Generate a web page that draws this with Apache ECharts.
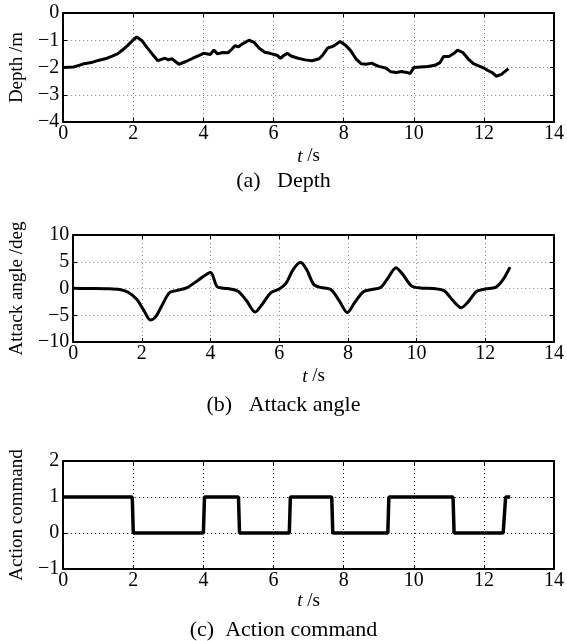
<!DOCTYPE html>
<html>
<head>
<meta charset="utf-8">
<script src="https://cdn.jsdelivr.net/npm/echarts/dist/echarts.min.js"></script>
<style>
  html, body { margin: 0; padding: 0; background: #fff; }
  #chart { width: 567px; height: 641px; }
</style>
</head>
<body>
<div id="chart"></div>
<script>
// time ticks shared by all three panels
const timeTicks = { min: 0, max: 14, interval: 2 };

// (a) depth [t (s), depth (m)]
const depthData = [
  [0, -2.0], [0.3, -1.98], [0.45, -1.92], [0.6, -1.86], [0.8, -1.82], [1.0, -1.74],
  [1.2, -1.68], [1.4, -1.58], [1.55, -1.5], [1.7, -1.35], [1.85, -1.18], [2.0, -0.98],
  [2.1, -0.88], [2.25, -1.02], [2.4, -1.28], [2.55, -1.52], [2.7, -1.75], [2.8, -1.7],
  [2.9, -1.66], [3.0, -1.72], [3.1, -1.68], [3.2, -1.78], [3.3, -1.88], [3.5, -1.78],
  [3.7, -1.66], [3.9, -1.55], [4.0, -1.48], [4.2, -1.52], [4.3, -1.36], [4.4, -1.5],
  [4.55, -1.45], [4.7, -1.46], [4.8, -1.34], [4.9, -1.2], [5.0, -1.24], [5.1, -1.14],
  [5.3, -1.0], [5.45, -1.08], [5.6, -1.3], [5.75, -1.44], [5.9, -1.48], [6.0, -1.52],
  [6.1, -1.55], [6.2, -1.66], [6.3, -1.55], [6.4, -1.48], [6.5, -1.58], [6.7, -1.66],
  [6.9, -1.72], [7.1, -1.75], [7.3, -1.68], [7.4, -1.55], [7.55, -1.28], [7.7, -1.22],
  [7.9, -1.05], [8.05, -1.18], [8.2, -1.38], [8.35, -1.68], [8.5, -1.86], [8.65, -1.88],
  [8.8, -1.84], [8.9, -1.9], [9.0, -1.96], [9.2, -2.02], [9.35, -2.16], [9.5, -2.18],
  [9.65, -2.15], [9.8, -2.18], [9.9, -2.22], [10.0, -2.0], [10.2, -1.98], [10.4, -1.96],
  [10.6, -1.92], [10.75, -1.82], [10.85, -1.6], [11.0, -1.6], [11.15, -1.48], [11.25, -1.36],
  [11.4, -1.45], [11.55, -1.68], [11.7, -1.86], [11.85, -1.94], [12.0, -2.02], [12.1, -2.1],
  [12.25, -2.2], [12.35, -2.32], [12.5, -2.25], [12.7, -2.04]
];
const depthTicks = { min: -4, max: 0, interval: 1 };

// (b) attack angle [t (s), angle (deg)]
const attackData = [
  [0, 0.05], [0.5, 0.0], [1.0, -0.05], [1.35, -0.2], [1.6, -0.7], [1.85, -2.0],
  [2.05, -4.0], [2.25, -5.9], [2.4, -5.3], [2.6, -3.0], [2.8, -0.8], [3.0, -0.4],
  [3.3, 0.1], [3.65, 1.6], [4.0, 3.0], [4.2, 0.3], [4.5, 0.0], [4.8, -0.5],
  [5.05, -2.3], [5.3, -4.4], [5.5, -3.0], [5.75, -0.8], [6.0, -0.1], [6.2, 1.0],
  [6.4, 3.5], [6.62, 4.9], [6.8, 3.5], [7.0, 0.8], [7.2, 0.2], [7.5, -0.2],
  [7.75, -2.3], [7.98, -4.5], [8.2, -2.6], [8.45, -0.6], [8.7, -0.2], [8.95, 0.2],
  [9.15, 1.8], [9.4, 3.9], [9.6, 2.6], [9.85, 0.5], [10.1, 0.1], [10.5, 0.0],
  [10.8, -0.4], [11.05, -2.2], [11.3, -3.6], [11.5, -2.5], [11.75, -0.5], [12.0, -0.1],
  [12.3, 0.2], [12.5, 1.5], [12.72, 4.0]
];
const attackTicks = { min: -10, max: 10, interval: 5 };

// (c) action command [t (s), command]
const actionData = [
  [0, 1], [1.97, 1], [2.0, 0], [4.0, 0], [4.03, 1], [5.0, 1], [5.03, 0],
  [6.45, 0], [6.48, 1], [7.66, 1], [7.69, 0], [9.26, 0], [9.29, 1], [11.12, 1],
  [11.15, 0], [12.55, 0], [12.62, 1], [12.75, 1]
];
const actionTicks = { min: -1, max: 2, interval: 1 };

const captions = ['(a)   Depth', '(b)   Attack angle', '(c)  Action command'];
const yNames = ['Depth /m', 'Attack angle /deg', 'Action command'];

const FONT = '"Liberation Serif", "DejaVu Serif", serif';

const grids = [
  { left: 58, top: 13, width: 503, height: 109 },
  { left: 68, top: 235, width: 495, height: 107 },
  { left: 55, top: 461, width: 505, height: 108 }
];
const yNameGaps = [27, 36, 24];
const xNameGaps = [25, 25, 22];
const gridColors = ['#7a7a7a', '#8a8a8a', '#000'];
const yTicks = [depthTicks, attackTicks, actionTicks];
const captionTops = [170, 394, 619];

const minus = v => (v < 0 ? '\u2212' + (-v) : String(v));

const xAxes = [];
const yAxes = [];
grids.forEach((g, i) => {
  const split = { show: true, lineStyle: { color: gridColors[i], type: [1, 3], width: 1 } };
  xAxes.push({
    type: 'value', gridIndex: i, ...timeTicks,
    name: '{i|t} /s', nameLocation: 'middle', nameGap: xNameGaps[i],
    nameTextStyle: {
      fontFamily: FONT, fontSize: 19, color: '#000',
      rich: { i: { fontStyle: 'italic', fontFamily: FONT, fontSize: 19, color: '#000' } }
    },
    axisLine: { show: true, onZero: false, lineStyle: { color: '#000', width: 2 } },
    axisTick: { show: true, inside: true, length: 4, lineStyle: { color: '#000' } },
    axisLabel: { fontFamily: FONT, fontSize: 20, color: '#000', margin: 2 },
    splitLine: split
  });
  xAxes.push({
    type: 'value', gridIndex: i, position: 'top', ...timeTicks,
    axisLine: { show: true, onZero: false, lineStyle: { color: '#000', width: 2 } },
    axisTick: { show: true, inside: true, length: 4, lineStyle: { color: '#000' } },
    axisLabel: { show: false }, splitLine: { show: false }
  });
  yAxes.push({
    type: 'value', gridIndex: i, ...yTicks[i],
    name: yNames[i], nameLocation: 'middle', nameGap: yNameGaps[i],
    nameTextStyle: { fontFamily: FONT, fontSize: 19, color: '#000' },
    axisLine: { show: true, onZero: false, lineStyle: { color: '#000', width: 2 } },
    axisTick: { show: true, inside: true, length: 4, lineStyle: { color: '#000' } },
    axisLabel: { fontFamily: FONT, fontSize: 20, color: '#000', margin: 4, formatter: minus },
    splitLine: split
  });
  yAxes.push({
    type: 'value', gridIndex: i, position: 'right', ...yTicks[i],
    axisLine: { show: true, onZero: false, lineStyle: { color: '#000', width: 2 } },
    axisTick: { show: true, inside: true, length: 4, lineStyle: { color: '#000' } },
    axisLabel: { show: false }, splitLine: { show: false }
  });
});

const lineStyle = { color: '#000', width: 3 };

const option = {
  animation: false,
  backgroundColor: '#fff',
  title: captions.map((c, i) => ({
    text: c, left: 'center', top: captionTops[i], padding: 0,
    textStyle: { fontFamily: FONT, fontSize: 22, fontWeight: 'normal', color: '#000' }
  })),
  grid: grids,
  xAxis: xAxes,
  yAxis: yAxes,
  series: [
    { type: 'line', xAxisIndex: 0, yAxisIndex: 0, data: depthData, showSymbol: false, lineStyle },
    { type: 'line', xAxisIndex: 2, yAxisIndex: 2, data: attackData, showSymbol: false, smooth: 0.3, lineStyle },
    { type: 'line', xAxisIndex: 4, yAxisIndex: 4, data: actionData, showSymbol: false, lineStyle: { color: '#000', width: 3.5 } }
  ]
};

const chart = echarts.init(document.getElementById('chart'));
chart.setOption(option);
</script>
</body>
</html>
